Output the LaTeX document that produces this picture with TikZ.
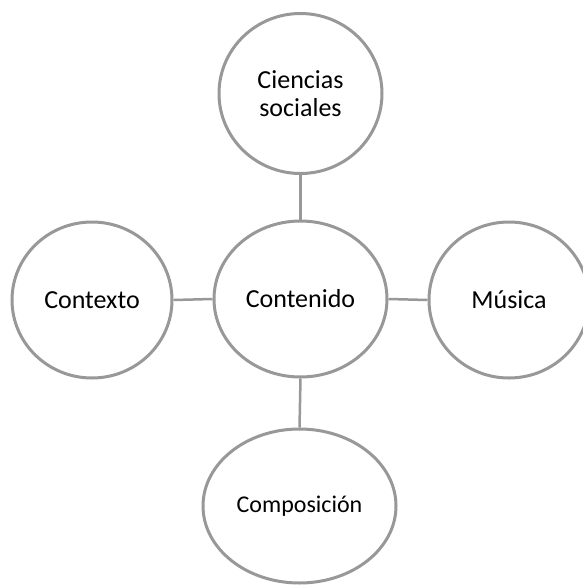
\documentclass[tikz,border=0pt]{standalone}
\usepackage{fontspec}
\setmainfont{Carlito}
\usetikzlibrary{shapes.geometric}
\definecolor{ringgray}{RGB}{152,152,152}
\tikzset{
  ring/.style={ellipse, draw=ringgray, line width=3pt, inner sep=0pt, fill=white,
    align=center, font=\fontsize{26}{28}\selectfont},
  link/.style={draw=ringgray, line width=2.5pt}
}
\begin{document}
\begin{tikzpicture}[x=1pt,y=1pt]
\useasboundingbox (0,0) rectangle (583,-587);
\node[ring, minimum width=163pt, minimum height=160pt] (top) at (300.5,-93.5) {Ciencias\\sociales};
\node[ring, minimum width=173pt, minimum height=156pt] (mid) at (300.5,-299) {Contenido};
\node[ring, minimum width=160pt, minimum height=156pt] (left) at (92,-300) {Contexto};
\node[ring, minimum width=160pt, minimum height=156pt] (right) at (509,-300) {Música};
\node[ring, minimum width=193pt, minimum height=154pt, font=\fontsize{24}{28}\selectfont] (bot) at (299.5,-506) {Composición};
\draw[link] (top.south) -- (mid.north);
\draw[link] (mid.west) -- (left.east);
\draw[link] (mid.east) -- (right.west);
\draw[link] (mid.south) -- (bot.north);
\end{tikzpicture}
\end{document}
